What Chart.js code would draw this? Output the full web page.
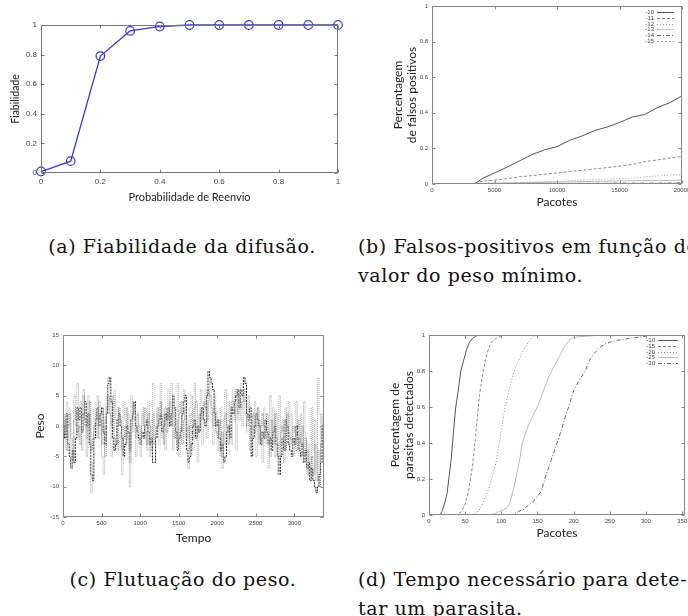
<!DOCTYPE html>
<html>
<head>
<meta charset="utf-8">
<script src="https://cdn.jsdelivr.net/npm/chart.js@4.4.1/dist/chart.umd.min.js"></script>
<style>
  html, body { margin: 0; padding: 0; background: #fff; }
  #page { position: relative; width: 688px; height: 616px; overflow: hidden; }
  canvas { position: absolute; }
  .cap { position: absolute; font-family: "DejaVu Serif", serif; font-size: 19px; letter-spacing: 0.6px; line-height: 29px; color: #111; white-space: nowrap; overflow: hidden; }
</style>
</head>
<body>
<div id="page">
  <canvas id="chartA" width="350" height="215" style="left:0;top:0"></canvas>
  <canvas id="chartB" width="318" height="215" style="left:370px;top:0"></canvas>
  <canvas id="chartC" width="340" height="230" style="left:0;top:320px"></canvas>
  <canvas id="chartD" width="318" height="230" style="left:370px;top:320px"></canvas>

  <div class="cap" style="left:0;top:232px;width:364px;text-align:center">(a) Fiabilidade da difusão.</div>
  <div class="cap" style="left:358px;top:232px;width:330px">(b) Falsos-positivos em função do<br>valor do peso mínimo.</div>
  <div class="cap" style="left:0;top:565px;width:366px;text-align:center">(c) Flutuação do peso.</div>
  <div class="cap" style="left:358px;top:565px;width:330px">(d) Tempo necessário para dete-<br>tar um parasita.</div>
</div>
<script>
// (a) fiabilidade vs probabilidade de reenvio
const probReenvio = [0, 0.1, 0.2, 0.3, 0.4, 0.5, 0.6, 0.7, 0.8, 0.9, 1];
const fiabilidade = [0.01, 0.08, 0.79, 0.96, 0.99, 1, 1, 1, 1, 1, 1];
const ticksUnit = [0, 0.2, 0.4, 0.6, 0.8, 1];

// (b) falsos positivos por peso minimo
const pacotesB = [3000, 3500, 4000, 5000, 6000, 7000, 8000, 9000, 10000, 11000, 12000, 13000, 14000, 15000, 16000, 17000, 18000, 19000, 20000];
const fp10 = [0, 0.005, 0.03, 0.062, 0.095, 0.13, 0.165, 0.192, 0.21, 0.245, 0.27, 0.30, 0.32, 0.345, 0.376, 0.39, 0.428, 0.456, 0.495];
const fp11 = [0, 0.005, 0.015, 0.022, 0.03, 0.04, 0.047, 0.055, 0.062, 0.07, 0.077, 0.085, 0.092, 0.10, 0.11, 0.125, 0.135, 0.145, 0.155];
const fp12 = [0, 0, 0.003, 0.005, 0.007, 0.009, 0.011, 0.013, 0.015, 0.018, 0.021, 0.025, 0.028, 0.03, 0.033, 0.04, 0.045, 0.05, 0.052];
const fp13 = [0, 0, 0.002, 0.004, 0.005, 0.006, 0.008, 0.009, 0.01, 0.012, 0.013, 0.015, 0.016, 0.017, 0.018, 0.019, 0.02, 0.02, 0.021];
const fp14 = [0, 0, 0, 0.001, 0.001, 0.002, 0.002, 0.003, 0.003, 0.003, 0.004, 0.004, 0.004, 0.005, 0.005, 0.005, 0.005, 0.006, 0.006];
const fp15 = [0, 0, 0, 0, 0, 0, 0.001, 0.001, 0.001, 0.001, 0.001, 0.001, 0.002, 0.002, 0.002, 0.002, 0.002, 0.002, 0.002];
const pesosB = ['-10', '-11', '-12', '-13', '-14', '-15'];
const ticksPacotesB = [0, 5000, 10000, 15000, 20000];

// (c) flutuacao do peso, amostras a cada 20 unidades de tempo
const pesoA = [
  0, -2, 2, -3, -5, -7, -4, -6, -2, 3,
  1, 3, -1, 2, 4, 0, 2, -3, -8, -9,
  -2, 1, 3, 0, 2, 3, -1, -3, 2, 7,
  8, 4, -2, -4, -3, 1, 2, 0, -2, -5,
  -3, 0, -1, -4, 1, 2, 4, 0, -1, -2,
  -3, -1, -2, 0, 1, -1, -3, -2, -6, -6,
  -2, 0, 1, 2, -1, 0, 2, 1, 3, 0,
  2, 5, 3, -1, -4, -2, -1, 2, 4, 5,
  -4, -6, -5, -3, 0, 1, -2, 0, -1, 2,
  3, 1, 0, 5, 9, 8, 7, 6, 2, 0,
  1, -2, -4, -3, -6, -5, -1, 0, -2, 3,
  2, 4, 5, 6, 3, 6, 5, 8, 7, 2,
  1, 3, -5, -2, 0, 2, 1, 0, -3, -1,
  -2, 1, -1, -3, -2, -4, -1, 0, -3, -5,
  -8, -5, -2, -4, 1, 0, -3, -4, -5, -2,
  -3, 0, -2, -4, -5, -3, -6, -4, -7, -6,
  -9, -7, -9, -10, -11, -10, -8, -6, 0, -2,
  -3
];
const pesoB = [
  2, -1, 4, -3, 3, -7, -6, 5, 0, 7,
  -2, 4, -4, 6, 0, -5, 5, 2, -11, -6,
  3, 0, 5, -2, 2, -5, -8, 1, 5, 8,
  6, -5, -2, 6, 1, 3, -4, -1, -8, 4,
  1, -3, 2, -10, 5, -1, 3, -5, 0, -3,
  -5, 2, 0, 3, -4, 4, -5, 1, 7, -2,
  0, 2, -3, 7, -2, 2, -4, 0, 6, 1,
  7, -4, 3, -2, 7, -5, 0, 3, 6, -2,
  1, -7, 3, 5, -4, 7, 0, -6, 2, 6,
  -3, 2, 6, -2, 4, 8, 2, -3, 5, 2,
  -4, 0, 3, -7, 1, 6, -2, 4, 0, -3,
  6, 3, -4, 5, 1, 7, 0, 6, 2, -1,
  5, -4, 2, 0, 4, -5, 3, -2, 1, -6,
  3, -3, 0, -7, 5, -2, 3, -5, 2, -8,
  5, -3, 1, -6, 3, -1, 4, -3, 2, -5,
  -3, 4, 0, -5, 2, -6, 4, -2, -8, -3,
  -6, 3, -4, 1, -7, 8, 2, -6, -1, 0,
  -2
];
const pesoC = [
  -1, 1, -4, 0, 2, -2, -5, 1, 3, -1,
  0, -3, 2, 5, 1, -2, 0, 4, -4, -2,
  0, 2, -2, 4, 1, -3, 0, -5, 3, 5,
  2, 0, 5, -2, -4, 0, 3, 1, -4, -2,
  0, 3, -2, -6, 0, 4, 1, -2, 2, 0,
  -2, 0, 3, -1, -3, 2, 0, -4, 2, -3,
  -1, 3, 0, 4, 1, -3, 3, -1, 2, 4,
  0, 3, -2, 1, -3, 2, 4, -3, 1, 3,
  -2, 0, -4, 2, -2, 3, 4, -1, 0, 3,
  1, 4, 3, 1, 6, 5, 3, 0, 3, -1,
  -2, 1, -5, -1, -3, 2, 0, -3, 1, 4,
  4, 1, 6, 2, 5, 3, 4, 6, 4, 0,
  3, 0, -2, 2, -1, 0, 3, -3, 0, 2,
  0, -2, 2, -1, -5, 1, -3, 2, -2, -3,
  -5, -1, 0, -2, -4, 2, -1, -2, -3, 0,
  -1, -4, 1, -2, -3, 0, -5, -2, -4, -8,
  -7, -5, -8, -3, -9, -4, -10, -3, 2, -3,
  -1
];
const tempo = pesoA.map((_, i) => i * 20);
const ticksTempo = [0, 500, 1000, 1500, 2000, 2500, 3000];
const ticksPeso = [-15, -10, -5, 0, 5, 10, 15];

// (d) parasitas detectados
const d10x = [8, 15, 18, 22, 25, 28, 31, 34, 37, 40, 44, 48, 52, 56, 60, 65, 70];
const d10y = [0, 0, 0.02, 0.07, 0.12, 0.22, 0.32, 0.47, 0.6, 0.68, 0.8, 0.86, 0.92, 0.96, 0.98, 0.995, 1];
const d15x = [28, 35, 40, 45, 50, 55, 60, 64, 67, 70, 74, 78, 82, 86, 92, 100, 108];
const d15y = [0, 0, 0.005, 0.02, 0.06, 0.14, 0.27, 0.42, 0.55, 0.67, 0.78, 0.86, 0.92, 0.96, 0.98, 0.995, 1];
const d20x = [55, 62, 68, 73, 78, 83, 88, 93, 98, 103, 108, 113, 118, 124, 130, 137, 143, 148, 168];
const d20y = [0, 0.005, 0.02, 0.05, 0.1, 0.15, 0.22, 0.3, 0.42, 0.55, 0.65, 0.73, 0.8, 0.86, 0.91, 0.96, 0.99, 1, 1];
const d25x = [78, 90, 97, 103, 108, 112, 116, 120, 125, 129, 134, 140, 146, 152, 159, 166, 172, 180, 188, 196, 205, 240, 320];
const d25y = [0, 0.005, 0.02, 0.03, 0.04, 0.07, 0.13, 0.2, 0.3, 0.4, 0.46, 0.52, 0.57, 0.62, 0.7, 0.77, 0.82, 0.88, 0.94, 0.98, 0.99, 1, 1];
const d30x = [111, 118, 124, 130, 136, 143, 149, 155, 160, 166, 172, 177, 183, 188, 193, 200, 208, 216, 222, 229, 236, 243, 250, 260, 275, 295, 310];
const d30y = [0, 0.005, 0.02, 0.03, 0.05, 0.07, 0.1, 0.13, 0.2, 0.27, 0.34, 0.4, 0.47, 0.54, 0.6, 0.69, 0.75, 0.8, 0.86, 0.9, 0.93, 0.95, 0.96, 0.97, 0.98, 0.99, 1];
const pesosD = ['-10', '-15', '-20', '-25', '-30'];
const ticksPacotesD = [0, 50, 100, 150, 200, 250, 300, 350];

const pts = (xs, ys) => xs.map((x, i) => ({ x: x, y: ys[i] }));

// fixed axis sizes so the plot boxes land where the figure has them
function fixAxis(size) {
  return function (s) {
    if (s.isHorizontal()) { s.height = size; s.paddingLeft = 0; s.paddingRight = 0; }
    else { s.width = size; s.paddingTop = 0; s.paddingBottom = 0; }
  };
}
const setTicks = vals => s => { s.ticks = vals.map(v => ({ value: v })); };

// box round the plot area with small inward tick marks (gnuplot style)
const framePlugin = {
  id: 'frame',
  afterDatasetsDraw(chart, args, opts) {
    const { ctx, chartArea: a } = chart;
    const x = chart.scales.x, y = chart.scales.y;
    const L = Math.round(a.left) + 0.5, R = Math.round(a.right) - 0.5;
    const T = Math.round(a.top) + 0.5, B = Math.round(a.bottom) - 0.5;
    ctx.save();
    ctx.strokeStyle = opts.color || '#888';
    ctx.lineWidth = 1;
    ctx.strokeRect(L, T, R - L, B - T);
    ctx.beginPath();
    x.ticks.forEach(t => {
      const p = Math.round(x.getPixelForValue(t.value)) + 0.5;
      ctx.moveTo(p, B); ctx.lineTo(p, B - 3);
      ctx.moveTo(p, T); ctx.lineTo(p, T + 3);
    });
    y.ticks.forEach(t => {
      const p = Math.round(y.getPixelForValue(t.value)) + 0.5;
      ctx.moveTo(L, p); ctx.lineTo(L + 3, p);
      ctx.moveTo(R, p); ctx.lineTo(R - 3, p);
    });
    ctx.stroke();
    ctx.restore();
  }
};

// legend drawn inside the plot, label first then the line sample
const insideLegend = {
  id: 'insideLegend',
  afterDraw(chart, args, opts) {
    if (!opts.show) return;
    const { ctx, chartArea: a } = chart;
    ctx.save();
    ctx.font = '6px "Liberation Sans"';
    ctx.textAlign = 'right';
    ctx.textBaseline = 'middle';
    chart.data.datasets.forEach((ds, i) => {
      const y = Math.round(a.top + opts.top + i * opts.row) + 0.5;
      const x = a.right - opts.right;
      ctx.fillStyle = '#444';
      ctx.fillText(ds.label, x - opts.len - 3, y);
      ctx.strokeStyle = ds.borderColor;
      ctx.lineWidth = ds.borderWidth || 1;
      ctx.setLineDash(ds.borderDash || []);
      ctx.beginPath();
      ctx.moveTo(x - opts.len, y);
      ctx.lineTo(x, y);
      ctx.stroke();
    });
    ctx.restore();
  }
};

Chart.register(framePlugin, insideLegend);

const tickFont = { family: 'Liberation Sans', size: 6 };
const titleFont = { family: 'Lato', size: 12 };
const noGrid = { display: false, drawTicks: false };
const baseOpts = {
  responsive: false,
  animation: false,
  events: [],
  plugins: { legend: { display: false }, tooltip: { enabled: false } }
};

// (a)
new Chart(document.getElementById('chartA'), {
  type: 'line',
  data: {
    datasets: [{
      data: pts(probReenvio, fiabilidade),
      borderColor: '#3a3ad6',
      borderWidth: 1.3,
      pointRadius: 4.3,
      pointBorderWidth: 1.2,
      pointBackgroundColor: 'rgba(0,0,0,0)',
      pointBorderColor: '#3a3ad6',
      clip: false
    }]
  },
  options: {
    ...baseOpts,
    layout: { padding: { top: 25, right: 12, left: 0, bottom: 0 } },
    plugins: { ...baseOpts.plugins, frame: { color: '#777' } },
    scales: {
      x: {
        type: 'linear', min: 0, max: 1,
        afterFit: fixAxis(42), afterBuildTicks: setTicks(ticksUnit),
        grid: noGrid, border: { display: false },
        ticks: { padding: 4, color: '#444', font: { family: 'Liberation Sans', size: 8 }, callback: v => String(v) },
        title: { display: true, text: 'Probabilidade de Reenvio', color: '#222', font: { family: 'Lato', size: 11 }, padding: { top: 0, bottom: 11 } }
      },
      y: {
        min: 0, max: 1,
        afterFit: fixAxis(41), afterBuildTicks: setTicks(ticksUnit),
        grid: noGrid, border: { display: false },
        ticks: { padding: 4, color: '#444', font: { family: 'Liberation Sans', size: 8 }, callback: v => String(v) },
        title: { display: true, text: 'Fiabilidade', color: '#222', font: { family: 'Lato', size: 10.5 }, padding: { top: 9, bottom: 0 } }
      }
    }
  }
});

// (b)
const fpSeries = [fp10, fp11, fp12, fp13, fp14, fp15];
const bStyles = [
  { color: '#555', dash: [] },
  { color: '#888', dash: [3, 2] },
  { color: '#999', dash: [1, 2] },
  { color: '#bbb', dash: [] },
  { color: '#666', dash: [4, 2, 1, 2] },
  { color: '#999', dash: [2, 2] }
];
new Chart(document.getElementById('chartB'), {
  type: 'line',
  data: {
    datasets: fpSeries.map((ys, i) => ({
      label: pesosB[i],
      data: pts(pacotesB, ys),
      borderColor: bStyles[i].color,
      borderDash: bStyles[i].dash,
      borderWidth: 1,
      pointRadius: 0
    }))
  },
  options: {
    ...baseOpts,
    layout: { padding: { top: 6, right: 6, left: 0, bottom: 0 } },
    plugins: { ...baseOpts.plugins, insideLegend: { show: true, top: 6, row: 5.8, right: 8, len: 17 } },
    scales: {
      x: {
        type: 'linear', min: 0, max: 20000,
        afterFit: fixAxis(31), afterBuildTicks: setTicks(ticksPacotesB),
        grid: noGrid, border: { display: false },
        ticks: { padding: 3, color: '#444', font: tickFont, callback: v => String(v) },
        title: { display: true, text: 'Pacotes', color: '#222', font: titleFont, padding: { top: 0, bottom: 6 } }
      },
      y: {
        min: 0, max: 1,
        afterFit: fixAxis(62), afterBuildTicks: setTicks(ticksUnit),
        grid: noGrid, border: { display: false },
        ticks: { padding: 4, color: '#444', font: tickFont, callback: v => String(v) },
        title: { display: true, text: ['Percentagem', 'de falsos positivos'], color: '#222', font: titleFont, padding: { top: 21, bottom: 0 } }
      }
    }
  }
});

// (c)
new Chart(document.getElementById('chartC'), {
  type: 'line',
  data: {
    datasets: [
      { data: pts(tempo, pesoB), borderColor: '#aaa', borderDash: [1, 1], borderWidth: 1, pointRadius: 0, stepped: true },
      { data: pts(tempo, pesoC), borderColor: '#777', borderDash: [1, 1], borderWidth: 1, pointRadius: 0, stepped: true },
      { data: pts(tempo, pesoA), borderColor: '#222', borderDash: [2, 1], borderWidth: 1, pointRadius: 0, stepped: true }
    ]
  },
  options: {
    ...baseOpts,
    layout: { padding: { top: 15, right: 16, left: 0, bottom: 0 } },
    scales: {
      x: {
        type: 'linear', min: 0, max: 3385,
        afterFit: fixAxis(33), afterBuildTicks: setTicks(ticksTempo),
        grid: noGrid, border: { display: false },
        ticks: { padding: 3, color: '#444', font: tickFont, callback: v => String(v) },
        title: { display: true, text: 'Tempo', color: '#222', font: titleFont, padding: { top: 0, bottom: 5 } }
      },
      y: {
        min: -15, max: 15,
        afterFit: fixAxis(63), afterBuildTicks: setTicks(ticksPeso),
        grid: noGrid, border: { display: false },
        ticks: { padding: 4, color: '#444', font: tickFont, callback: v => String(v) },
        title: { display: true, text: 'Peso', color: '#222', font: titleFont, padding: { top: 33, bottom: 0 } }
      }
    }
  }
});

// (d)
const dSeries = [[d10x, d10y], [d15x, d15y], [d20x, d20y], [d25x, d25y], [d30x, d30y]];
const dStyles = [
  { color: '#555', dash: [] },
  { color: '#888', dash: [3, 2] },
  { color: '#888', dash: [1, 2] },
  { color: '#bbb', dash: [] },
  { color: '#666', dash: [4, 2, 1, 2] }
];
new Chart(document.getElementById('chartD'), {
  type: 'line',
  data: {
    datasets: dSeries.map((s, i) => ({
      label: pesosD[i],
      data: pts(s[0], s[1]),
      borderColor: dStyles[i].color,
      borderDash: dStyles[i].dash,
      borderWidth: 1,
      pointRadius: 0
    }))
  },
  options: {
    ...baseOpts,
    layout: { padding: { top: 15, right: 3, left: 0, bottom: 0 } },
    plugins: { ...baseOpts.plugins, insideLegend: { show: true, top: 5, row: 5.75, right: 7, len: 20 } },
    scales: {
      x: {
        type: 'linear', min: 0, max: 354,
        afterFit: fixAxis(35), afterBuildTicks: setTicks(ticksPacotesD),
        grid: noGrid, border: { display: false },
        ticks: { padding: 3, color: '#444', font: tickFont, callback: v => String(v) },
        title: { display: true, text: 'Pacotes', color: '#222', font: titleFont, padding: { top: 0, bottom: 10 } }
      },
      y: {
        min: 0, max: 1,
        afterFit: fixAxis(59), afterBuildTicks: setTicks(ticksUnit),
        grid: noGrid, border: { display: false },
        ticks: { padding: 4, color: '#444', font: tickFont, callback: v => String(v) },
        title: { display: true, text: ['Percentagem de', 'parasitas detectados'], color: '#222', font: titleFont, padding: { top: 18, bottom: 0 } }
      }
    }
  }
});
</script>
</body>
</html>
